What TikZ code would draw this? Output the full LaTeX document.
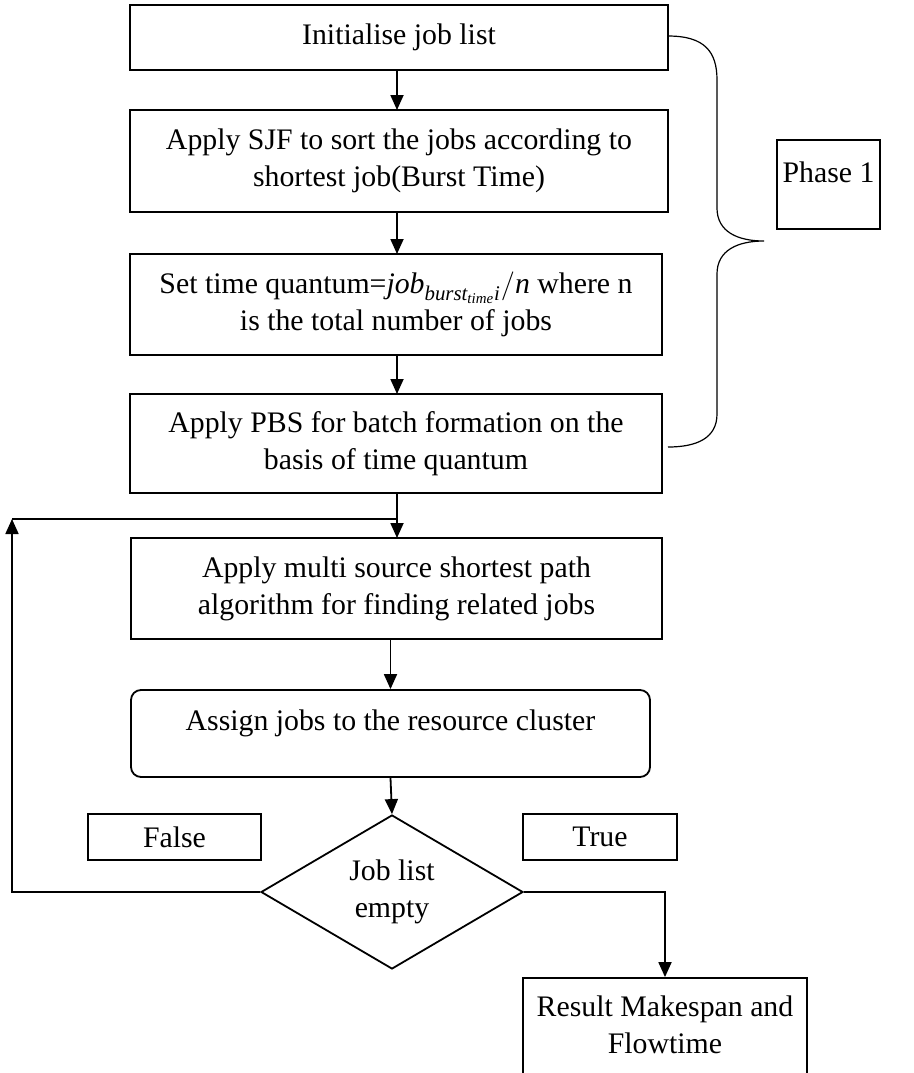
\documentclass[tikz,border=0pt]{standalone}
\usepackage{amsmath}
\usepackage{fontspec}
\setmainfont{Liberation Serif}
\usetikzlibrary{arrows.meta,shapes.geometric,calc}

\begin{document}
\begin{tikzpicture}[x=0.5pt,y=-0.5pt,
  font=\fontsize{14.9}{18.5}\selectfont,
  line width=0.9pt,
  box/.style={draw, rectangle, align=center, inner sep=0pt},
  rbox/.style={draw, rectangle, rounded corners=5pt, align=center, inner sep=0pt},
  decision/.style={draw, diamond, align=center, inner sep=0pt},
  arr/.style={-{Triangle[length=7.5pt,width=6.5pt]}},
  brace/.style={line width=0.6pt}
]
\useasboundingbox (0,0) rectangle (914,1073);

% main column
\node[box, minimum width=269pt, minimum height=32.5pt] (b1) at (399,37.5) {Initialise job list};
\node[box, minimum width=269pt, minimum height=51pt] (b2) at (399,161)
  {Apply SJF to sort the jobs according to\\shortest job(Burst Time)};
\node[box, minimum width=266pt, minimum height=50.5pt] (b3) at (396,304.5)
  {Set time quantum=$\textit{job}_{\textit{burst}_{\textit{time}}\textit{i}}/\textit{n}$ where n\\is the total number of jobs};
\node[box, minimum width=266pt, minimum height=49.5pt] (b4) at (396,443.5)
  {Apply PBS for batch formation on the\\basis of time quantum};
\node[box, minimum width=265.5pt, minimum height=50.5pt] (b5) at (396.5,588.5)
  {Apply multi source shortest path\\algorithm for finding related jobs};
\node[rbox, minimum width=259.5pt, minimum height=43.5pt, text depth=13pt] (b6) at (390.5,733.5)
  {Assign jobs to the resource cluster};
\node[decision, minimum width=131pt, minimum height=77pt] (dia) at (392,892)
  {Job list\\empty};
\node[box, minimum width=142pt, minimum height=51pt, text depth=4.5pt] (res) at (665,1029)
  {Result Makespan and\\Flowtime};

% side labels
\node[box, minimum width=51.5pt, minimum height=44.5pt, text depth=12pt] (phase) at (828.5,184.5) {Phase 1};
\node[box, minimum width=86.5pt, minimum height=23pt] (false) at (174.5,837) {False};
\node[box, minimum width=77pt, minimum height=23pt] (true) at (600,837) {True};

% flow arrows
\draw[arr] (397,70) -- (397,110);
\draw[arr] (397,212) -- (397,254);
\draw[arr] (397,355) -- (397,394);
\draw[arr] (397,493) -- (397,538);
\draw[arr] (b6.north |- b5.south) -- (b6.north);
\draw[arr] (b6.south) -- (dia.north);

% loop back on False
\coordinate (loopL) at (12,519);
\coordinate (loopR) at (397,519);
\draw[arr] (dia.west) -| (loopL);
\draw (loopL) -- (loopR);

% exit on True
\draw[arr] (dia.east) -| (res.north);

% brace grouping phase 1
\coordinate (brTop) at (668,36);
\coordinate (brTip) at (764,241);
\coordinate (brBot) at (668,447);
\draw[brace] (brTop) .. controls (705,36) and (717,52) .. (717,80)
  -- (717,208) .. controls (717,232) and (738,241) .. (brTip)
  .. controls (738,241) and (717,250) .. (717,274)
  -- (717,414) .. controls (717,438) and (697,447) .. (brBot);
\end{tikzpicture}
\end{document}
